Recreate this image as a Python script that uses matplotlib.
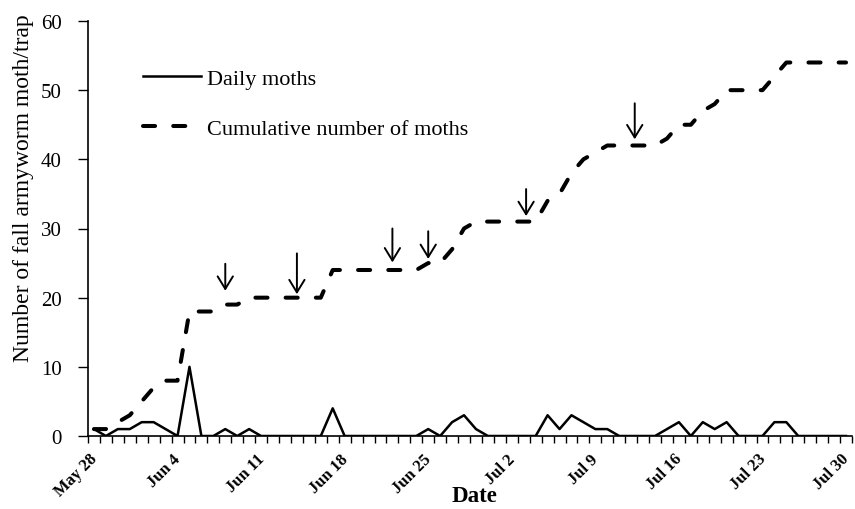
import matplotlib
matplotlib.use('Agg')
import matplotlib.pyplot as plt
import matplotlib.transforms as mtransforms
import numpy as np

# Trap catches, one value per day from May 28 to Jul 30
daily_moths = [1, 0, 1, 1, 2, 2, 1, 0, 10, 0,
               0, 1, 0, 1, 0, 0, 0, 0, 0, 0,
               4, 0, 0, 0, 0, 0, 0, 0, 1, 0,
               2, 3, 1, 0, 0, 0, 0, 0, 3, 1,
               3, 2, 1, 1, 0, 0, 0, 0, 1, 2,
               0, 2, 1, 2, 0, 0, 0, 2, 2, 0,
               0, 0, 0, 0]
cumulative_moths = [1, 1, 2, 3, 5, 7, 8, 8, 18, 18,
                    18, 19, 19, 20, 20, 20, 20, 20, 20, 20,
                    24, 24, 24, 24, 24, 24, 24, 24, 25, 25,
                    27, 30, 31, 31, 31, 31, 31, 31, 34, 35,
                    38, 40, 41, 42, 42, 42, 42, 42, 43, 45,
                    45, 47, 48, 50, 50, 50, 50, 52, 54, 54,
                    54, 54, 54, 54]
date_labels = ['May 28', 'Jun 4', 'Jun 11', 'Jun 18', 'Jun 25',
               'Jul 2', 'Jul 9', 'Jul 16', 'Jul 23', 'Jul 30']

# Arrows (day index, top of arrow, tip of arrow)
arrow_day = [11, 17, 25, 28, 36.2, 45.3]
arrow_top = [24.9, 26.4, 30.0, 29.6, 35.7, 48.1]
arrow_tip = [21.0, 20.5, 25.1, 25.6, 31.8, 42.9]

plt.rcParams['font.family'] = 'Liberation Serif'

fig = plt.figure(figsize=(8.55, 5.1), dpi=100)
ax = fig.add_axes([88 / 855, 73 / 510, 764 / 855, 415 / 510])

days = np.arange(len(daily_moths))
ax.plot(days, daily_moths, color='black', linewidth=1.8, label='Daily moths')
ax.plot(days, cumulative_moths, color='black', linewidth=2.9,
        dashes=(3.0, 4.5), dash_capstyle='round',
        label='Cumulative number of moths')

for x, y0, y1 in zip(arrow_day, arrow_top, arrow_tip):
    ax.annotate('', xy=(x, y1), xytext=(x, y0),
                arrowprops=dict(arrowstyle='->, head_length=0.9, head_width=0.55',
                                color='black', linewidth=1.4,
                                shrinkA=0, shrinkB=0, mutation_scale=10))

# Axis setup, Excel style
ax.set_xlim(-0.5, len(daily_moths) - 0.5)
ax.set_ylim(0, 60)
ax.set_yticks([0, 10, 20, 30, 40, 50, 60])
ax.tick_params(axis='y', direction='out', length=7, width=1, labelsize=15, pad=12)

ax.set_xticks(np.arange(0, len(daily_moths), 7))
ax.set_xticklabels(date_labels, rotation=45, ha='right', va='top',
                   rotation_mode='anchor', fontsize=12, fontweight='bold')
ax.set_xticks(np.arange(-0.5, len(daily_moths), 1), minor=True)
ax.tick_params(axis='x', which='major', length=0, pad=10.5)
ax.tick_params(axis='x', which='minor', direction='out', length=5, width=1)

# nudge the date labels a little to the left so the last one fits
shift = mtransforms.ScaledTranslation(-0.05, 0, fig.dpi_scale_trans)
for lbl in ax.get_xticklabels():
    lbl.set_transform(lbl.get_transform() + shift)

ax.spines['top'].set_visible(False)
ax.spines['right'].set_visible(False)
ax.spines['left'].set_linewidth(1.2)
ax.spines['bottom'].set_linewidth(1.2)

fig.text(474 / 855, 1 - 497 / 510, 'Date', ha='center', va='center',
         fontsize=16.5, fontweight='bold')
fig.text(24 / 855, 1 - 188 / 510, 'Number of fall armyworm moth/trap',
         rotation=90, ha='center', va='center', fontsize=17)

ax.legend(loc='upper left', bbox_to_anchor=(143 / 855, 1 - 69 / 510),
          bbox_transform=fig.transFigure, frameon=False, fontsize=16,
          handlelength=2.6, handletextpad=0.3, labelspacing=1.35,
          borderpad=0, borderaxespad=0)

plt.savefig('out.png', dpi=100)
